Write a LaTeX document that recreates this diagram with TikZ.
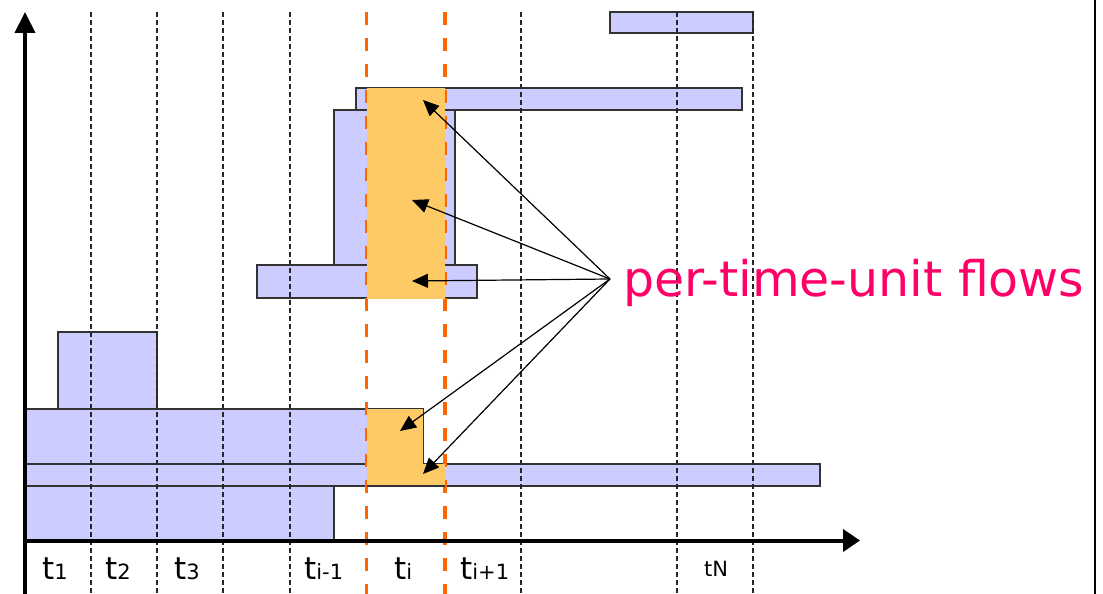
\documentclass[tikz,border=0pt]{standalone}
\usepackage{fontspec}
\setmainfont{DejaVu Sans}
\usetikzlibrary{arrows.meta}
\definecolor{barblue}{HTML}{CCCCFF}
\definecolor{barline}{HTML}{333333}
\definecolor{floworange}{HTML}{FDCA66}
\definecolor{slotorange}{HTML}{FF6600}
\definecolor{flowtext}{HTML}{FF0066}
\newcommand{\tlbl}[1]{{\fontsize{31}{31}\selectfont t}{\fontsize{21}{21}\selectfont #1}}
\begin{document}
\begin{tikzpicture}[x=1pt,y=-1pt,
  bar/.style={fill=barblue,draw=barline,line width=1.4pt},
  gridline/.style={draw=black!85,line width=1.1pt,dash pattern=on 5pt off 3pt},
  slot/.style={draw=slotorange,line width=3.5pt,dash pattern=on 13pt off 13pt},
  flow/.style={fill=floworange},
  axis/.style={line width=4pt},
  pointer/.style={line width=1.2pt,-{Triangle[length=16pt,width=14pt]}},
  lbl/.style={anchor=base west,inner sep=0pt}]
\fill[white] (0,0) rectangle (1103,594);
\useasboundingbox (0,0) rectangle (1103,594);
% bars
\draw[bar] (610,12) rectangle (753,33);
\draw[bar] (356,88) rectangle (742,110);
\draw[bar] (334,110) rectangle (455,265);
\draw[bar] (257,265) rectangle (477,298);
\draw[bar] (58,332) rectangle (157,409);
\draw[bar] (26,409) rectangle (423,464);
\draw[bar] (26,464) rectangle (820,486);
\draw[bar] (26,486) rectangle (334,540);
% grid lines
\foreach \x in {91,157,223,290,521,677,753}
  \draw[gridline] (\x,12) -- (\x,594);
\foreach \x in {366.5,445}
  \draw[slot] (\x,12) -- (\x,594);
% per-time-unit flow areas
\fill[flow] (367,88) rectangle (444.7,299);
\fill[flow] (367,409) rectangle (423,464);
\fill[flow] (367,463.5) rectangle (444.7,486);
\draw[barline,line width=1.2pt] (367,486) -- (444.7,486);
% axes
\coordinate (origin) at (25,540.5);
\coordinate (ytip) at (25,12);
\coordinate (ybot) at (25,594);
\coordinate (xtip) at (860,540.5);
\draw[axis,-{Triangle[length=21pt,width=20pt]}] (ybot) -- (ytip);
\draw[axis,-{Triangle[length=17pt,width=22pt]}] (origin) -- (xtip);
% right frame
\draw[line width=2pt] (1095,0) -- (1095,594);
% labels
\node[lbl] (l1) at (42,579) {\tlbl{1}};
\node[lbl] (l2) at (105,579) {\tlbl{2}};
\node[lbl] (l3) at (174,579) {\tlbl{3}};
\node[lbl] (lim) at (304,579) {\tlbl{i-1}};
\node[lbl] (li) at (394,579) {\tlbl{i}};
\node[lbl] (lip) at (460,579) {\tlbl{i+1}};
\node[lbl] (lN) at (704,576) {\fontsize{21}{21}\selectfont tN};
\node[lbl,text=flowtext] (flows) at (623,296) {\fontsize{49}{49}\selectfont per-time-unit flows};
% arrows
\coordinate (src) at (610,279);
\coordinate (f1) at (423,100);
\coordinate (f2) at (412,200);
\coordinate (f3) at (412,281);
\coordinate (f4) at (400,431);
\coordinate (f5) at (423,474);
\foreach \t in {f1,f2,f3,f4,f5}
  \draw[pointer] (src) -- (\t);
\end{tikzpicture}
\end{document}
